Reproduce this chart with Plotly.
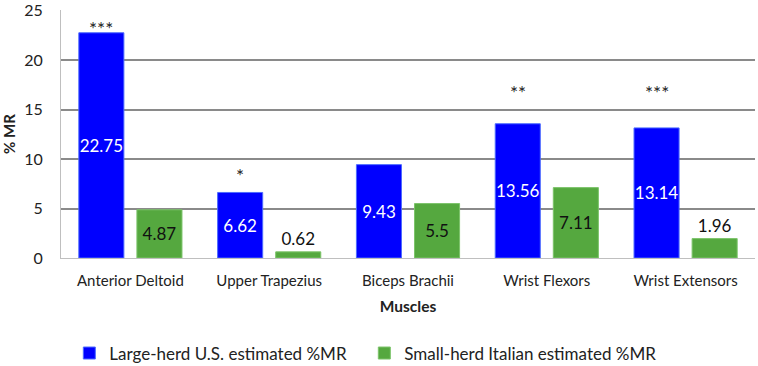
import plotly.graph_objects as go

muscles = ["Anterior Deltoid", "Upper Trapezius", "Biceps Brachii", "Wrist Flexors", "Wrist Extensors"]
us_values = [22.75, 6.62, 9.43, 13.56, 13.14]
it_values = [4.87, 0.62, 5.5, 7.11, 1.96]
us_labels = ["22.75", "6.62", "9.43", "13.56", "13.14"]
it_labels = ["4.87", "0.62", "5.5", "7.11", "1.96"]
significance = ["***", "*", "", "**", "***"]
sig_y = [23.2, 8.3, None, 16.7, 16.7]
y_ticks = [0, 5, 10, 15, 20, 25]

FONT = "Lato, Carlito, Calibri, sans-serif"
BLUE = "#0000FF"
GREEN = "#55A83F"

fig = go.Figure()
fig.add_trace(go.Bar(
    name="Large-herd U.S. estimated %MR",
    x=muscles, y=us_values, text=us_labels,
    textposition="inside", insidetextanchor="middle", textangle=0,
    constraintext="none",
    textfont=dict(color="white", size=17, family=FONT),
    marker=dict(color=BLUE, line=dict(color="#4d6bff", width=1)),
))
fig.add_trace(go.Bar(
    name="Small-herd Italian estimated %MR",
    x=muscles, y=it_values, text=it_labels,
    textposition="auto", insidetextanchor="middle", textangle=0,
    constraintext="none",
    insidetextfont=dict(color="#111111", size=17, family=FONT),
    outsidetextfont=dict(color="#111111", size=17, family=FONT),
    marker=dict(color=GREEN, line=dict(color="#7cc46a", width=1)),
    cliponaxis=False,
))

for m, s, yv in zip(muscles, significance, sig_y):
    if s:
        fig.add_annotation(x=m, y=yv, text=s, showarrow=False, xshift=-29,
                           font=dict(size=19, family=FONT, color="#222222"),
                           yanchor="middle")

fig.update_layout(
    width=758, height=366,
    margin=dict(l=61, r=3, t=10, b=108, autoexpand=False),
    paper_bgcolor="white", plot_bgcolor="white",
    barmode="group", bargap=0.163, bargroupgap=0.224,
    font=dict(family=FONT, size=15, color="#222222"),
    showlegend=True,
    legend=dict(orientation="h", x=0.012, xanchor="left", y=-0.385, yanchor="middle",
                font=dict(size=17, family=FONT, color="#222222"),
                entrywidth=250, entrywidthmode="pixels",
                itemwidth=30, bgcolor="rgba(0,0,0,0)"),
)
fig.update_xaxes(
    title=dict(text="<b>Muscles</b>", font=dict(size=15.5, family=FONT), standoff=13),
    tickfont=dict(size=15, family=FONT), showline=True, linecolor="#bfbfbf", linewidth=1,
    ticks="", showgrid=False, automargin=False, ticklabelstandoff=9,
)
fig.update_yaxes(
    title=dict(text="<b>% MR</b>", font=dict(size=15, family=FONT), standoff=7),
    range=[0, 25.05], tickvals=y_ticks, tickfont=dict(size=16, family=FONT),
    showgrid=True, gridcolor="#8a8a8a", gridwidth=1.5,
    showline=True, linecolor="#bfbfbf", linewidth=1, zeroline=False,
    ticks="", ticklabelstandoff=14, automargin=False, ticklabeloverflow="allow",
)

fig.write_html("out.html", config={"displayModeBar": False},
               post_script="document.body.style.margin='0';document.body.style.padding='0';")
